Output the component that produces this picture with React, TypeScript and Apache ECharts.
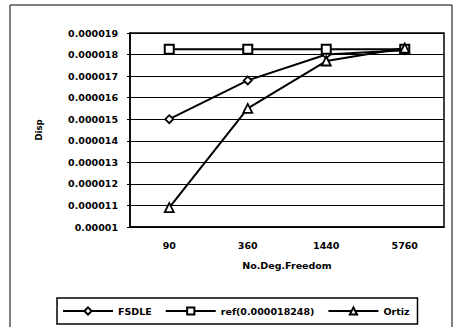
import React, { useEffect, useRef } from "react";
import * as echarts from "echarts";

const categories = ["90", "360", "1440", "5760"];
const fsdle = [0.000015, 0.0000168, 0.0000180, 0.0000182];
const refVal = [0.000018248, 0.000018248, 0.000018248, 0.000018248];
const ortiz = [0.0000109, 0.0000155, 0.0000177, 0.0000183];

const FONT = "DejaVu Sans";

export default function App() {
  const ref = useRef<HTMLDivElement>(null);
  useEffect(() => {
    const chart = echarts.init(ref.current!, null, { renderer: "svg" });
    const lineStyle = { color: "#000", width: 2 };
    const itemStyle = { color: "#fff", borderColor: "#000", borderWidth: 1.8 };
    const txt = { fontFamily: FONT, fontSize: 9.5, fontWeight: "bold", color: "#000" };
    chart.setOption({
      animation: false,
      backgroundColor: "#fff",
      graphic: [
        {
          type: "rect",
          shape: { x: 10, y: 5, width: 442, height: 330 },
          style: { fill: "none", stroke: "#000", lineWidth: 1 },
          silent: true,
        },
      ],
      grid: {
        left: 130,
        top: 33,
        width: 314,
        height: 194,
        show: true,
        borderColor: "#000",
        borderWidth: 1.5,
        backgroundColor: "transparent",
      },
      legend: {
        left: 57,
        top: 298,
        padding: [8, 8, 8, 5],
        borderColor: "#000",
        borderWidth: 1.5,
        itemWidth: 50,
        itemHeight: 9,
        itemGap: 13,
        textStyle: { ...txt, fontSize: 9.5 },
        data: ["FSDLE", "ref(0.000018248)", "Ortiz"],
      },
      xAxis: {
        type: "category",
        data: categories,
        boundaryGap: true,
        name: "No.Deg.Freedom",
        nameLocation: "middle",
        nameGap: 33,
        nameTextStyle: txt,
        axisLine: { lineStyle: { color: "#000", width: 1.5 } },
        axisTick: { show: false },
        axisLabel: { ...txt, margin: 13 },
      },
      yAxis: {
        type: "value",
        min: 0.00001,
        max: 0.000019,
        interval: 0.000001,
        name: "Disp",
        nameLocation: "middle",
        nameRotate: 90,
        nameGap: 87,
        nameTextStyle: { ...txt, fontSize: 8.5 },
        axisLine: { show: true, lineStyle: { color: "#000", width: 1.5 } },
        axisTick: { show: true, length: 3, lineStyle: { color: "#000" } },
        splitLine: { lineStyle: { color: "#000", width: 1.2 } },
        axisLabel: {
          ...txt,
          margin: 12,
          formatter: (v: number) => v.toFixed(6).replace(/0+$/, ""),
        },
      },
      series: [
        {
          name: "FSDLE",
          type: "line",
          data: fsdle,
          symbol: "diamond",
          symbolSize: 8,
          lineStyle,
          itemStyle,
        },
        {
          name: "ref(0.000018248)",
          type: "line",
          data: refVal,
          symbol: "rect",
          symbolSize: 9,
          lineStyle,
          itemStyle: { ...itemStyle, borderWidth: 2 },
        },
        {
          name: "Ortiz",
          type: "line",
          data: ortiz,
          symbol: "triangle",
          symbolSize: 9,
          lineStyle,
          itemStyle,
        },
      ],
    });
    return () => chart.dispose();
  }, []);
  return (
    <div
      ref={ref}
      style={{ position: "absolute", left: 0, top: 0, width: 459, height: 327 }}
    />
  );
}
